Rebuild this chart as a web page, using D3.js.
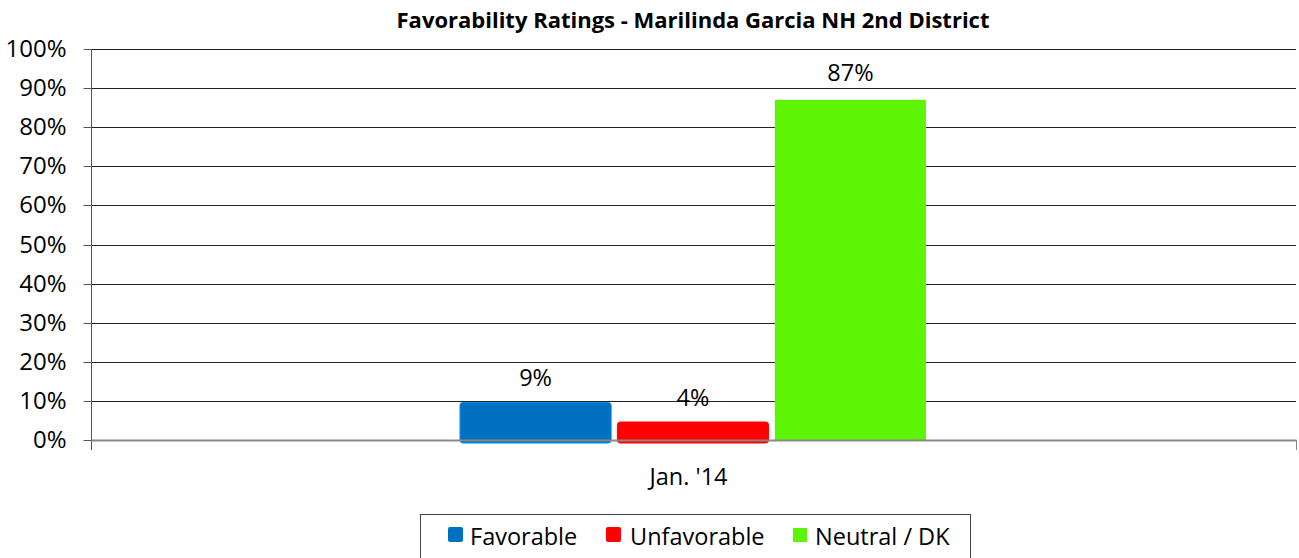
<!DOCTYPE html>
<html><head><meta charset="utf-8">
<script src="https://cdn.jsdelivr.net/npm/d3@7/dist/d3.min.js"></script>
<style>body{margin:0;background:#fff}svg{display:block}text{font-family:"Open Sans",sans-serif;fill:#000}</style>
</head><body>
<svg id="c" width="1299" height="558"></svg>
<script>
const title = "Favorability Ratings - Marilinda Garcia NH 2nd District";
const categories = ["Jan. '14"];
const series = ["Favorable", "Unfavorable", "Neutral / DK"];
const values = [9.6, 4.6, 87];
const valueLabels = ["9%", "4%", "87%"];
const colors = ["#0070C0", "#FF0000", "#5EF504"];
const yTicks = [0,10,20,30,40,50,60,70,80,90,100];

const svg = d3.select("#c");
const L = 91, R = 1296, T = 49, B = 440;
const FS = "23.5px";
const y = d3.scaleLinear().domain([0,100]).range([B,T]);
const x = d3.scaleBand().domain(categories).range([L,R]);
const xs = d3.scaleBand().domain(series).range([460,926]).paddingInner(0.04);

svg.append("text").attr("x",693).attr("y",28).attr("text-anchor","middle")
  .style("font-weight","bold").style("font-size","22px").text(title);

// gridlines
svg.append("g").selectAll("line").data(yTicks.filter(d=>d>0)).join("line")
  .attr("x1",L).attr("x2",R).attr("y1",d=>Math.round(y(d))+0.5).attr("y2",d=>Math.round(y(d))+0.5)
  .attr("stroke","#222").attr("stroke-width",1);

// y axis
const ya = svg.append("g").attr("transform",`translate(${L+0.5},0)`)
  .call(d3.axisLeft(y).tickValues(yTicks).tickFormat(d=>d+"%").tickSize(8).tickPadding(17));
ya.select(".domain").attr("stroke","#555").attr("d",`M0,${T}V${B+10}`);
ya.selectAll(".tick line").attr("stroke","#555");
ya.selectAll(".tick text").style("font-size","24px").style("font-family","'Open Sans',sans-serif").attr("fill","#000");
ya.selectAll(".tick").attr("transform",d=>`translate(0,${Math.round(y(d))+0.5})`);

// bars
const g = svg.append("g");
series.forEach((s,i)=>{
  const x0 = xs(s), w = xs.bandwidth();
  const rounded = i < 2;
  g.append("rect").attr("x",x0).attr("y",y(values[i])).attr("width",w)
    .attr("height",B - y(values[i]) + (rounded?3:0))
    .attr("rx",rounded?3:0).attr("fill",colors[i])
    .attr("stroke",rounded?d3.color(colors[i]).brighter(0.6):"none").attr("stroke-width",rounded?1:0);
  svg.append("text").attr("x",x0+w/2).attr("y",y(values[i])-(i===2?19:16))
    .attr("text-anchor","middle").style("font-size",FS).text(valueLabels[i]);
});

// x axis
const xa = svg.append("g");
xa.append("path").attr("d",`M${L+0.5},${B+0.5}H${R+0.5}`).attr("stroke","#888").attr("stroke-width",2).attr("fill","none");
xa.append("path").attr("d",`M${R+0.5},${B}V${B+10}`).attr("stroke","#888").attr("stroke-width",1);
svg.append("text").attr("x",x(categories[0])+x.bandwidth()/2-5).attr("y",485).attr("text-anchor","middle")
  .style("font-size",FS).text(categories[0]);

// legend
const lg = svg.append("g");
lg.append("rect").attr("x",420.5).attr("y",514.5).attr("width",550).attr("height",50).attr("fill","#fff").attr("stroke","#444");
const lx = [448, 606, 793], tx = [470, 630, 815];
series.forEach((s,i)=>{
  lg.append("rect").attr("x",lx[i]).attr("y",i<2?527:528).attr("width",i<2?15:14).attr("height",i<2?15:14)
    .attr("rx",i<2?2:0).attr("fill",colors[i]);
  lg.append("text").attr("x",tx[i]).attr("y",545).style("font-size",FS).text(s);
});
</script>
</body></html>
